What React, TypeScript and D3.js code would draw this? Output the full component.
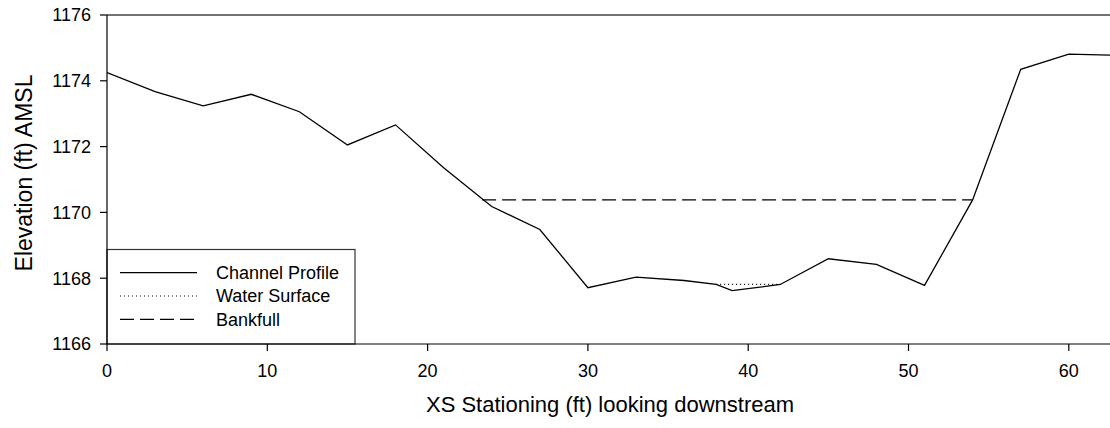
import React from 'react';
import * as d3 from 'd3';

// channel cross-section survey
const stations = [0, 3, 6, 9, 12, 15, 18, 21, 24, 27, 30, 33, 36, 38, 39, 42, 45, 48, 51, 54, 57, 60, 62.6];
const elevations = [
  1174.25, 1173.67, 1173.24, 1173.59, 1173.06, 1172.05, 1172.66, 1171.36, 1170.18, 1169.48,
  1167.71, 1168.03, 1167.93, 1167.81, 1167.62, 1167.81, 1168.59, 1168.42, 1167.78, 1170.38,
  1174.35, 1174.81, 1174.78,
];

const waterStations = [38, 42];
const waterElevations = [1167.81, 1167.81];

const bankfullStations = [23.4, 54];
const bankfullElevations = [1170.38, 1170.38];

const xTicks = [0, 10, 20, 30, 40, 50, 60];
const yTicks = [1166, 1168, 1170, 1172, 1174, 1176];

const legendItems = [
  { label: 'Channel Profile', dash: 'none' },
  { label: 'Water Surface', dash: '1,3' },
  { label: 'Bankfull', dash: '14,6' },
];

const font = '"Liberation Sans", Arial, sans-serif';

const App: React.FC = () => {
  const width = 1110;
  const height = 428;
  const left = 107;
  const right = 1110;
  const top = 15;
  const bottom = 344;

  const x = d3.scaleLinear().domain([0, 62.57]).range([left, right]);
  const y = d3.scaleLinear().domain([1166, 1176]).range([bottom, top]);

  const line = d3.line<[number, number]>()
    .x(d => x(d[0]))
    .y(d => y(d[1]));

  const profile = line(stations.map((s, i) => [s, elevations[i]] as [number, number])) || '';
  const water = line(waterStations.map((s, i) => [s, waterElevations[i]] as [number, number])) || '';
  const bankfull = line(bankfullStations.map((s, i) => [s, bankfullElevations[i]] as [number, number])) || '';

  return (
    <svg
      width={width}
      height={height}
      style={{ position: 'absolute', left: 0, top: 0, background: '#fff' }}
      fontFamily={font}
    >
      <defs>
        <clipPath id="plot">
          <rect x={left} y={top} width={right - left} height={bottom - top} />
        </clipPath>
      </defs>

      {/* top frame */}
      <line x1={left} x2={right} y1={top} y2={top} stroke="#444" strokeWidth={1.4} />

      <g clipPath="url(#plot)">
        <path d={bankfull} fill="none" stroke="#000" strokeWidth={1.2} strokeDasharray="14,6" />
        <path d={water} fill="none" stroke="#000" strokeWidth={1.2} strokeDasharray="1,3" />
        <path d={profile} fill="none" stroke="#000" strokeWidth={1.3} />
      </g>

      {/* legend */}
      <rect x={left} y={249.5} width={248} height={bottom - 249.5} fill="#fff" stroke="#333" strokeWidth={1.2} />
      {legendItems.map((item, i) => {
        const ly = 272.7 + i * 23.3;
        return (
          <g key={item.label}>
            <line x1={120} x2={197} y1={ly} y2={ly} stroke="#000" strokeWidth={1.2}
              strokeDasharray={item.dash === 'none' ? undefined : item.dash} />
            <text x={216} y={ly} dy="0.35em" fontSize={18} fill="#000">{item.label}</text>
          </g>
        );
      })}

      {/* y axis */}
      <line x1={left} x2={left} y1={top} y2={bottom} stroke="#000" strokeWidth={1.2} />
      {yTicks.map(t => (
        <g key={t}>
          <line x1={left - 7} x2={left} y1={y(t)} y2={y(t)} stroke="#000" strokeWidth={1.2} />
          <text x={91} y={y(t)} dy="0.35em" textAnchor="end" fontSize={18} fill="#000">{t}</text>
        </g>
      ))}

      {/* x axis */}
      <line x1={left} x2={right} y1={bottom} y2={bottom} stroke="#000" strokeWidth={1.2} />
      {xTicks.map(t => (
        <g key={t}>
          <line x1={x(t)} x2={x(t)} y1={bottom} y2={bottom + 7} stroke="#000" strokeWidth={1.2} />
          <text x={x(t)} y={377} textAnchor="middle" fontSize={18} fill="#000">{t}</text>
        </g>
      ))}

      <text x={610} y={412} textAnchor="middle" fontSize={22} fill="#000">
        XS Stationing (ft) looking downstream
      </text>
      <text
        transform="translate(32, 173) rotate(-90)"
        textAnchor="middle"
        fontSize={23}
        fill="#000"
      >
        Elevation (ft) AMSL
      </text>
    </svg>
  );
};

export default App;
